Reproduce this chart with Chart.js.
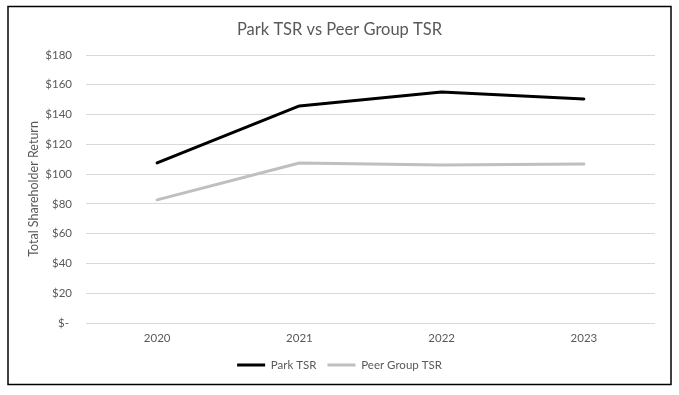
<!DOCTYPE html>
<html>
<head>
<meta charset="utf-8">
<script src="https://cdn.jsdelivr.net/npm/chart.js@4"></script>
<style>
  html, body { margin: 0; padding: 0; background: #ffffff; }
  #wrap { position: absolute; left: 0; top: 0; width: 679px; height: 395px; }
</style>
</head>
<body>
<div id="wrap"><canvas id="c" width="679" height="395"></canvas></div>
<script>
const categories = ['2020', '2021', '2022', '2023'];
const parkTSR = [107.5, 145.8, 155.2, 150.5];
const peerTSR = [82.7, 107.5, 106.2, 106.8];
const yTickValues = [0, 20, 40, 60, 80, 100, 120, 140, 160, 180];
const yTickLabels = ['$-', '$20', '$40', '$60', '$80', '$100', '$120', '$140', '$160', '$180'];
const chartTitle = 'Park TSR vs Peer Group TSR';
const yAxisTitle = 'Total Shareholder Return';
const seriesNames = ['Park TSR', 'Peer Group TSR'];

const FONT = 'Lato, Carlito, Calibri, sans-serif';
const TEXT = '#595959';

const borderPlugin = {
  id: 'outerBorder',
  beforeDraw(chart) {
    const ctx = chart.ctx;
    ctx.save();
    ctx.fillStyle = '#ffffff';
    ctx.fillRect(0, 0, chart.width, chart.height);
    ctx.restore();
  },
  afterDraw(chart) {
    const ctx = chart.ctx;
    ctx.save();
    ctx.strokeStyle = '#000000';
    ctx.lineWidth = 1.5;
    ctx.strokeRect(8, 6.5, 663, 378);
    ctx.restore();
  }
};

new Chart(document.getElementById('c'), {
  type: 'line',
  data: {
    labels: categories,
    datasets: [
      { label: seriesNames[0], data: parkTSR, borderColor: '#000000', backgroundColor: '#000000',
        borderWidth: 3, pointRadius: 0, tension: 0, borderCapStyle: 'round', borderJoinStyle: 'round' },
      { label: seriesNames[1], data: peerTSR, borderColor: '#bfbfbf', backgroundColor: '#bfbfbf',
        borderWidth: 3, pointRadius: 0, tension: 0, borderCapStyle: 'round', borderJoinStyle: 'round' }
    ]
  },
  options: {
    responsive: false,
    animation: false,
    devicePixelRatio: 1,
    layout: { padding: { left: 24, right: 24, top: 0, bottom: 14.25 } },
    plugins: {
      title: {
        display: true, text: chartTitle, color: TEXT,
        font: { family: FONT, size: 16.5, weight: 'normal' },
        padding: { top: 20.1, bottom: 15.1 }
      },
      legend: {
        display: true, position: 'bottom',
        labels: {
          color: TEXT, font: { family: FONT, size: 11.5 },
          usePointStyle: true, pointStyleWidth: 28, pointStyle: 'line',
          boxHeight: 11.5, padding: 11
        }
      },
      tooltip: { enabled: false }
    },
    scales: {
      x: {
        offset: true,
        grid: { display: false, drawTicks: false },
        border: { display: false },
        ticks: { color: TEXT, font: { family: FONT, size: 11.5 }, padding: 8, maxRotation: 0 },
        afterFit(s) { s.height = 25.25; }
      },
      y: {
        min: 0, max: 180,
        afterBuildTicks(s) { s.ticks = yTickValues.map(v => ({ value: v })); },
        grid: { color: '#d9d9d9', lineWidth: 1, drawTicks: false },
        border: { display: false },
        ticks: {
          color: TEXT, font: { family: FONT, size: 11.5 }, padding: 14,
          callback(v) { const i = yTickValues.indexOf(v); return i >= 0 ? yTickLabels[i] + (v === 0 ? ' ' : '') : ''; }
        },
        title: {
          display: true, text: yAxisTitle, color: TEXT,
          font: { family: FONT, size: 12.5 }, padding: { top: 2.5, bottom: 0 }
        },
        afterFit(s) { s.width = 62; }
      }
    }
  },
  plugins: [borderPlugin]
});
</script>
</body>
</html>
